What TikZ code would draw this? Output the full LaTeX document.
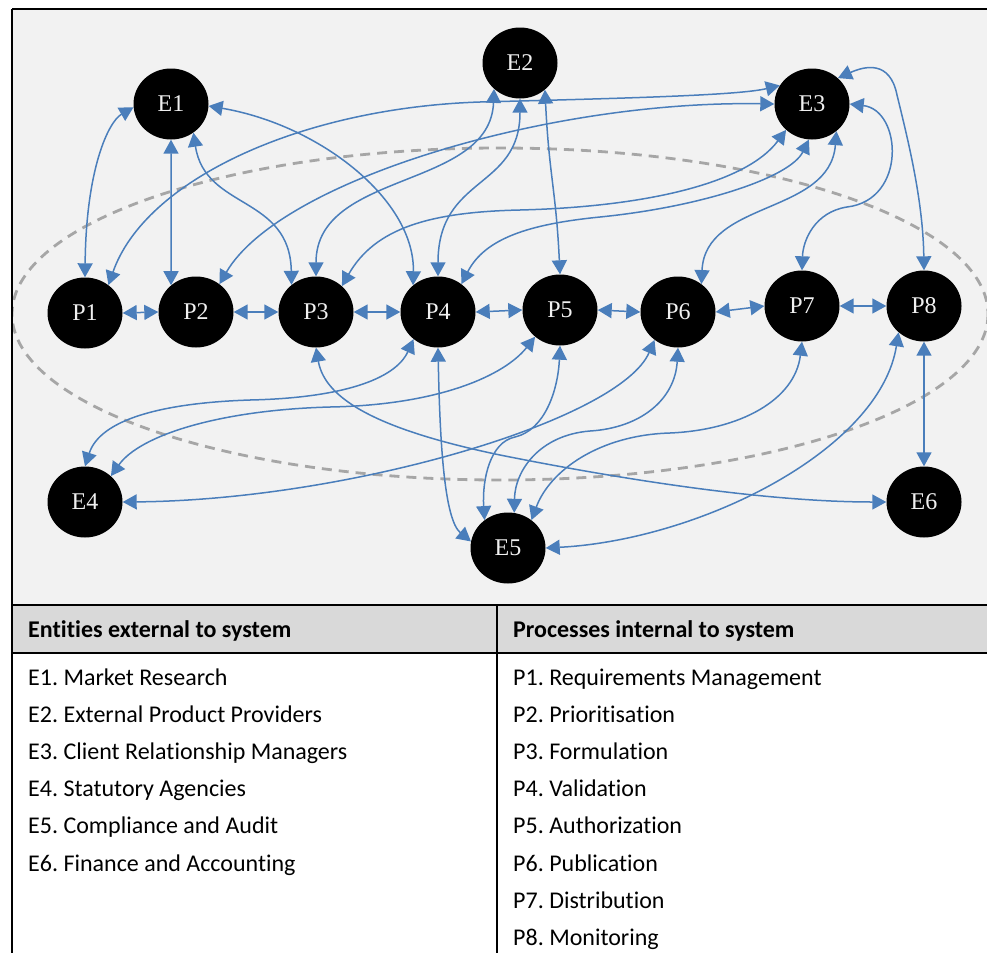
\documentclass[tikz,border=0pt]{standalone}
\usepackage{fontspec}
\setmainfont{Liberation Serif}
\newfontfamily\tabfont[Ligatures=NoCommon]{Carlito}
\usetikzlibrary{arrows.meta,shapes.geometric}
\definecolor{linkblue}{RGB}{74,126,187}
\definecolor{bggray}{RGB}{242,242,242}
\definecolor{hdrgray}{RGB}{217,217,217}
\definecolor{dashgray}{RGB}{166,166,166}
\frenchspacing
\begin{document}
\begin{tikzpicture}[x=1pt,y=-1pt,
  ent/.style={ellipse, fill=black, minimum width=75pt, minimum height=71pt, inner sep=0pt,
    text=white!94!black, font=\fontsize{24}{28}\selectfont},
  link/.style={draw=linkblue, line width=1.5pt,
    {Triangle[length=14pt,width=15pt]}-{Triangle[length=14pt,width=15pt]}},
  cell/.style={anchor=base west, inner sep=0pt, font=\tabfont\fontsize{24}{26}\selectfont},
  hdr/.style={anchor=base west, inner sep=0pt, font=\tabfont\bfseries\fontsize{24}{26}\selectfont},
  frame/.style={draw=black, line width=1.8pt},
  sysbound/.style={draw=dashgray, line width=2.8pt, dash pattern=on 10pt off 7pt}
]
\useasboundingbox (0,0) rectangle (987,953);
% backgrounds
\fill[bggray] (12,9) rectangle (987,605);
\fill[hdrgray] (12,605) rectangle (987,653);
\fill[white] (12,653) rectangle (987,953);
% system boundary
\begin{scope}
  \clip (12,9) rectangle (987,605);
  \draw[sysbound] (500,314) ellipse [x radius=488, y radius=166];
\end{scope}
% frame and table lines
\draw[frame] (12,9) -- (987,9);
\draw[frame] (12,9) -- (12,953);
\draw[frame] (12,605) -- (987,605);
\draw[frame, line width=1.4pt] (12,653) -- (987,653);
\draw[frame, line width=1.4pt] (497,605) -- (497,953);

% nodes
\node[ent] (E1) at (171,104) {E1};
\node[ent] (E2) at (520,63) {E2};
\node[ent] (E3) at (812,104) {E3};
\node[ent] (P1) at (85,313) {P1};
\node[ent] (P2) at (196,312) {P2};
\node[ent] (P3) at (316,312) {P3};
\node[ent] (P4) at (438,312) {P4};
\node[ent] (P5) at (560,310) {P5};
\node[ent] (P6) at (678,312) {P6};
\node[ent] (P7) at (802,306) {P7};
\node[ent] (P8) at (924,306) {P8};
\node[ent] (E4) at (85,502) {E4};
\node[ent] (E5) at (508,548) {E5};
\node[ent] (E6) at (924,502) {E6};

% process chain
\draw[link] (P1.east) -- (P2.west);
\draw[link] (P2.east) -- (P3.west);
\draw[link] (P3.east) -- (P4.west);
\draw[link] (P4.east) -- (P5.west);
\draw[link] (P5.east) -- (P6.west);
\draw[link] (P6.east) -- (P7.west);
\draw[link] (P7.east) -- (P8.west);

% E1
\draw[link] (E1.185) .. controls (108,122) and (86,170) .. (P1.north);
\draw[link] (E1.south) -- (P2.133);
\draw[link] (E1.-52) .. controls (205,210) and (290,195) .. (P3.132);
\draw[link] (E1.-3) .. controls (320,125) and (415,200) .. (P4.133);

% E2
\draw[link] (E2.-135) .. controls (490,190) and (316,170) .. (P3.north);
\draw[link] (E2.south) .. controls (520,190) and (438,175) .. (P4.north);
\draw[link] (E2.-47) .. controls (549,175) and (556,190) .. (P5.north);

% E3
\draw[link] (P1.50) .. controls (145,180) and (300,108) .. (480,102) .. controls (640,98) and (740,95) .. (E3.150);
\draw[link] (P2.50) .. controls (280,180) and (550,100) .. (E3.180);
\draw[link] (P3.45) .. controls (375,228) and (430,212) .. (520,210) .. controls (640,207) and (745,185) .. (E3.225);
\draw[link] (P4.50) .. controls (485,238) and (530,224) .. (600,217) .. controls (700,207) and (790,178) .. (E3.265);
\draw[link] (P6.50) .. controls (705,200) and (830,215) .. (E3.-48);
\draw[link] (E3.0) .. controls (902,110) and (907,200) .. (847,207) .. controls (815,212) and (803,240) .. (P7.north);
\draw[link] (E3.45) .. controls (865,66) and (890,60) .. (897,95) .. controls (908,140) and (923,200) .. (P8.north);

% E4
\draw[link] (E4.north) .. controls (100,420) and (160,403) .. (250,400) .. controls (340,398) and (395,380) .. (P4.228);
\draw[link] (E4.45) .. controls (140,435) and (220,410) .. (330,407) .. controls (440,405) and (505,375) .. (P5.227);
\draw[link] (E4.0) .. controls (350,500) and (620,420) .. (P6.230);

% E5
\draw[link] (P4.south) .. controls (440,450) and (445,520) .. (E5.170);
\draw[link] (P5.south) .. controls (558,390) and (545,430) .. (515,437) .. controls (490,442) and (482,480) .. (E5.130);
\draw[link] (P6.south) .. controls (675,400) and (640,428) .. (590,431) .. controls (540,435) and (515,470) .. (E5.80);
\draw[link] (P7.south) .. controls (795,400) and (740,430) .. (670,433) .. controls (600,435) and (550,470) .. (E5.50);
\draw[link] (P8.226) .. controls (880,450) and (700,540) .. (E5.0);

% E6
\draw[link] (P3.south) .. controls (325,400) and (380,430) .. (500,455) .. controls (650,485) and (780,502) .. (E6.180);
\draw[link] (P8.south) -- (E6.north);

% table text
\node[hdr] (h1) at (28,637) {Entities external to system};
\node[hdr] (h2) at (513,637) {Processes internal to system};
\node[cell] (l1) at (28,685.5) {E1. Market Research};
\node[cell] (l2) at (28,722.6) {E2. External Product Providers};
\node[cell] (l3) at (28,759.7) {E3. Client Relationship Managers};
\node[cell] (l4) at (28,796.8) {E4. Statutory Agencies};
\node[cell] (l5) at (28,833.9) {E5. Compliance and Audit};
\node[cell] (l6) at (28,871) {E6. Finance and Accounting};
\node[cell] (r1) at (513,685.5) {P1. Requirements Management};
\node[cell] (r2) at (513,722.6) {P2. Prioritisation};
\node[cell] (r3) at (513,759.7) {P3. Formulation};
\node[cell] (r4) at (513,796.8) {P4. Validation};
\node[cell] (r5) at (513,833.9) {P5. Authorization};
\node[cell] (r6) at (513,871) {P6. Publication};
\node[cell] (r7) at (513,908.1) {P7. Distribution};
\node[cell] (r8) at (513,945.2) {P8. Monitoring};
\end{tikzpicture}
\end{document}
